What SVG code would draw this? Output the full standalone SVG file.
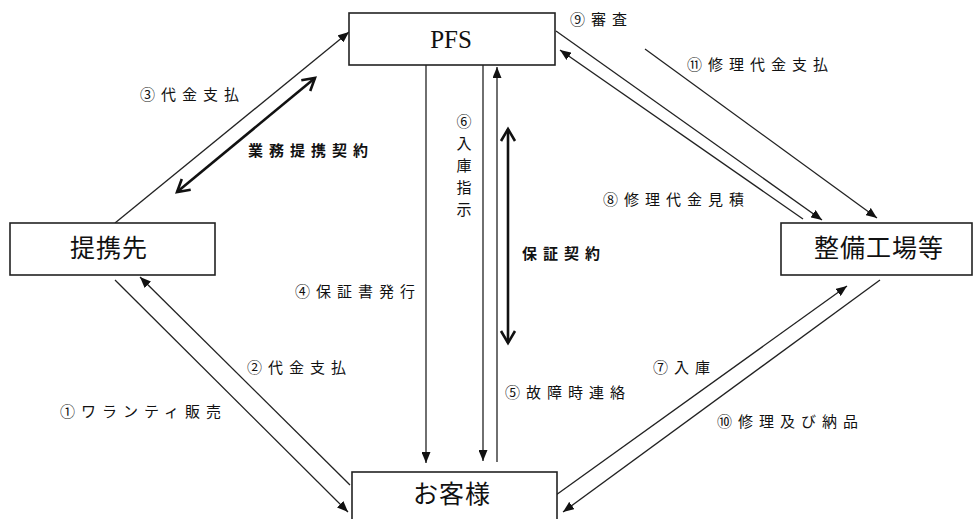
<svg xmlns="http://www.w3.org/2000/svg" width="975" height="519" viewBox="0 0 975 519">
<style>
.box{fill:#fff;stroke:#222;stroke-width:1.6}
.node{font-family:"Noto Sans CJK JP","Noto Sans CJK SC",sans-serif;font-size:25px;letter-spacing:1px;fill:#111;text-anchor:middle}
.pfs{font-family:"Liberation Serif",serif;font-size:25px;fill:#111;text-anchor:middle}
.lbl{font-family:"Noto Sans CJK JP","Noto Sans CJK SC",sans-serif;font-size:15px;letter-spacing:6px;fill:#111}
.bold{font-family:"Noto Sans CJK JP","Noto Sans CJK SC",sans-serif;font-size:15px;letter-spacing:6px;font-weight:bold;fill:#111}
.vt{writing-mode:vertical-rl}
.thin{stroke:#222;stroke-width:1.3;fill:none;marker-end:url(#ah)}
.thick{stroke:#111;stroke-width:2.6;fill:none;marker-end:url(#vh);marker-start:url(#vh)}
</style>
<defs>
<marker id="ah" markerUnits="userSpaceOnUse" viewBox="0 0 11 9" refX="11" refY="4.5" markerWidth="11" markerHeight="9" orient="auto">
<path d="M0,0 L11,4.5 L0,9 z" fill="#111"/>
</marker>
<marker id="vh" markerUnits="userSpaceOnUse" viewBox="-2 -2 18 18" refX="13" refY="7" markerWidth="18" markerHeight="18" orient="auto-start-reverse" overflow="visible">
<path d="M1,0 L13,7 L1,14" fill="none" stroke="#111" stroke-width="2.6"/>
</marker>
</defs>
<g id="connectors">
<line class="thin" x1="115" y1="223" x2="349" y2="32"/>
<line class="thick" x1="177" y1="192" x2="315" y2="78"/>
<line class="thin" x1="556" y1="31" x2="822" y2="220"/>
<line class="thin" x1="803" y1="219" x2="560" y2="50"/>
<line class="thin" x1="645" y1="49" x2="877" y2="218"/>
<line class="thin" x1="426" y1="65" x2="426" y2="463"/>
<line class="thin" x1="483" y1="65" x2="483" y2="461"/>
<line class="thin" x1="497" y1="462" x2="497" y2="67"/>
<line class="thick" x1="508" y1="129" x2="508" y2="343"/>
<line class="thin" x1="556" y1="495" x2="847" y2="286"/>
<line class="thin" x1="880" y1="280" x2="563" y2="512"/>
<line class="thin" x1="115" y1="280" x2="348" y2="512"/>
<line class="thin" x1="350" y1="485" x2="140" y2="277"/>
</g>
<g id="labels">
<text class="lbl" x="570" y="25">⑨審査</text>
<text class="lbl" x="687" y="70">⑪修理代金支払</text>
<text class="lbl" x="140" y="100">③代金支払</text>
<text class="bold" x="248" y="156">業務提携契約</text>
<text class="lbl" x="603" y="205">⑧修理代金見積</text>
<text class="bold" x="522" y="259">保証契約</text>
<text class="lbl" x="295" y="297">④保証書発行</text>
<text class="lbl" x="247" y="373">②代金支払</text>
<text class="lbl" x="60" y="417">①ワランティ販売</text>
<text class="lbl" x="653" y="373">⑦入庫</text>
<text class="lbl" x="505" y="398">⑤故障時連絡</text>
<text class="lbl" x="717" y="427">⑩修理及び納品</text>
<text class="lbl vt" x="464" y="114" style="letter-spacing:7px">⑥入庫指示</text>
</g>
<g id="pfs">
<rect class="box" x="349" y="13" width="206" height="52"/>
<text class="pfs" x="451" y="48">PFS</text>
</g>
<g id="teikeisaki">
<rect class="box" x="10" y="223" width="205" height="52"/>
<text class="node" x="109" y="257">提携先</text>
</g>
<g id="seibikojo">
<rect class="box" x="781" y="223" width="191" height="52"/>
<text class="node" x="879" y="257">整備工場等</text>
</g>
<g id="okyakusama">
<rect class="box" x="352" y="472" width="205" height="60"/>
<text class="node" x="452" y="503">お客様</text>
</g>
</svg>
